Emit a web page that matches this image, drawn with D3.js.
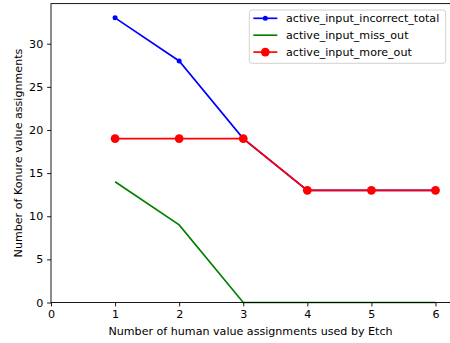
<!DOCTYPE html>
<html>
<head>
<meta charset="utf-8">
<script src="https://cdn.jsdelivr.net/npm/d3@7"></script>
<style>
  body { margin: 0; background: #fff; }
  svg { display: block; font-family: "DejaVu Sans", sans-serif; }
</style>
</head>
<body>
<svg id="chart" width="450" height="343"></svg>
<script>
// Counts per number of human value assignments used by Etch
const xValues = [1, 2, 3, 4, 5, 6];
const incorrectTotal = [33, 28, 19, 13, 13, 13];
const missOut = [14, 9, 0, 0, 0, 0];
const moreOut = [19, 19, 19, 13, 13, 13];
const xTicks = [0, 1, 2, 3, 4, 5, 6];
const yTicks = [0, 5, 10, 15, 20, 25, 30];

const series = [
  { name: "active_input_incorrect_total", values: incorrectTotal, color: "#0000ff", r: 2.5 },
  { name: "active_input_miss_out", values: missOut, color: "#008000", r: 0 },
  { name: "active_input_more_out", values: moreOut, color: "#ff0000", r: 4.4 }
];

const fontSize = 11.1;
const lineW = 1.67;

const svg = d3.select("#chart");
const plotLeft = 51, plotRight = 451.5, plotTop = 3.6, plotBottom = 302.5;

const x = d3.scaleLinear().domain([0, 6.25]).range([plotLeft, plotRight]);
const y = d3.scaleLinear().domain([0, 34.65]).range([plotBottom, plotTop]);

const line = d3.line().x(d => x(d[0])).y(d => y(d[1]));

// plot lines and markers
series.forEach(s => {
  const pts = xValues.map((v, i) => [v, s.values[i]]);
  svg.append("path")
    .attr("d", line(pts))
    .attr("fill", "none")
    .attr("stroke", s.color)
    .attr("stroke-width", lineW);
  if (s.r > 0) {
    svg.selectAll(null).data(pts).enter().append("circle")
      .attr("cx", d => x(d[0]))
      .attr("cy", d => y(d[1]))
      .attr("r", s.r)
      .attr("fill", s.color);
  }
});

// axes
const xAxis = d3.axisBottom(x).tickValues(xTicks).tickFormat(d3.format("d")).tickSize(3.9).tickPadding(3.9);
const yAxis = d3.axisLeft(y).tickValues(yTicks).tickFormat(d3.format("d")).tickSize(3.9).tickPadding(3.9);

const gx = svg.append("g").attr("transform", `translate(0,${plotBottom})`).call(xAxis);
const gy = svg.append("g").attr("transform", `translate(${plotLeft},0)`).call(yAxis);
[gx, gy].forEach(g => {
  g.select(".domain").remove();
  g.selectAll("text").attr("font-size", fontSize).attr("fill", "#000").attr("font-family", "DejaVu Sans");
  g.selectAll("line").attr("stroke", "#000").attr("stroke-width", 0.9);
});

// frame
svg.append("rect")
  .attr("x", plotLeft).attr("y", plotTop)
  .attr("width", plotRight - plotLeft).attr("height", plotBottom - plotTop)
  .attr("fill", "none").attr("stroke", "#000").attr("stroke-width", 0.9);

// axis labels
svg.append("text")
  .attr("x", 250.5).attr("y", 335)
  .attr("text-anchor", "middle").attr("font-size", fontSize)
  .text("Number of human value assignments used by Etch");
svg.append("text")
  .attr("transform", `translate(21.5,${(plotTop + plotBottom) / 2}) rotate(-90)`)
  .attr("text-anchor", "middle").attr("font-size", fontSize)
  .text("Number of Konure value assignments");

// legend
const lg = svg.append("g").attr("transform", "translate(249.3,10)");
lg.append("rect")
  .attr("width", 196.4).attr("height", 53.3).attr("rx", 2.8)
  .attr("fill", "#fff").attr("fill-opacity", 0.8)
  .attr("stroke", "#cccccc").attr("stroke-width", 0.9);
series.forEach((s, i) => {
  const cy = 8.3 + i * 16.9;
  lg.append("line")
    .attr("x1", 4).attr("x2", 28).attr("y1", cy).attr("y2", cy)
    .attr("stroke", s.color).attr("stroke-width", lineW);
  if (s.r > 0) {
    lg.append("circle").attr("cx", 16).attr("cy", cy).attr("r", s.r).attr("fill", s.color);
  }
  lg.append("text")
    .attr("x", 36.7).attr("y", cy + 4)
    .attr("font-size", fontSize)
    .text(s.name);
});
</script>
</body>
</html>
